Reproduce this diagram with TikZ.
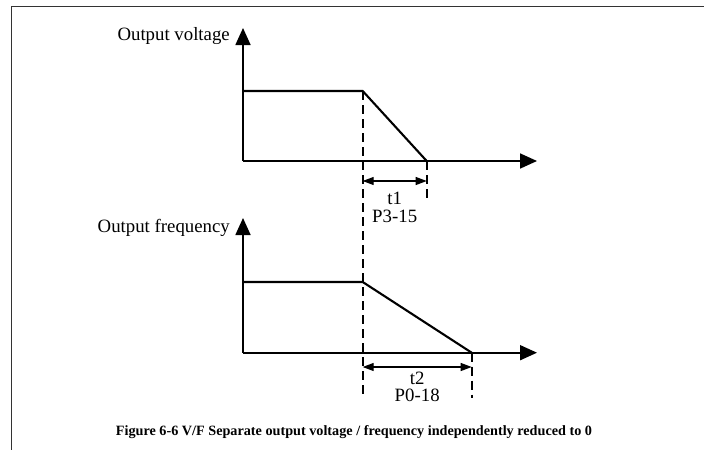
\documentclass[tikz,border=0pt]{standalone}
\usepackage{fontspec}
\setmainfont{Liberation Serif}
\usetikzlibrary{arrows.meta}
\begin{document}
\begin{tikzpicture}[x=1pt,y=-1pt,
  axis/.style={line width=1.7pt,-{Triangle[length=17pt,width=15pt]}},
  curve/.style={line width=2.1pt,line join=miter},
  guide/.style={line width=2pt,dash pattern=on 9pt off 5pt},
  dim/.style={line width=1.1pt,{Triangle[length=11pt,width=8pt]}-{Triangle[length=11pt,width=8pt]}},
  lbl/.style={font=\fontsize{18.8}{20}\selectfont,inner sep=0pt},
  captext/.style={font=\fontsize{14.2}{16}\selectfont\bfseries,inner sep=0pt}]
\useasboundingbox (0,0) rectangle (704,450);
% frame
\draw[line width=1.6pt,black!80] (704,6.5) -- (11.5,6.5) -- (11.5,450);
% upper graph coordinates
\coordinate (o1) at (243,161);
\coordinate (y1) at (243,28);
\coordinate (x1) at (537,161);
\coordinate (p1) at (243,91);
\coordinate (k1) at (362.7,91);
\coordinate (e1) at (426.7,161);
\coordinate (dl) at (362.7,398);
\coordinate (d1) at (426.7,198);
\coordinate (a1) at (362.7,181);
\coordinate (b1) at (426.7,181);
% lower graph coordinates
\coordinate (o2) at (243,352.7);
\coordinate (y2) at (243,218);
\coordinate (x2) at (537,352.7);
\coordinate (p2) at (243,282);
\coordinate (k2) at (362.7,282);
\coordinate (e2) at (471.7,352.7);
\coordinate (d2) at (471.7,398);
\coordinate (a2) at (362.7,367);
\coordinate (b2) at (471.7,367);
% axes
\draw[axis] (o1) -- (y1);
\draw[axis] (o1) -- (x1);
\draw[axis] (o2) -- (y2);
\draw[axis] (o2) -- (x2);
% curves
\draw[curve] (p1) -- (k1) -- (e1);
\draw[curve] (p2) -- (k2) -- (e2);
% guides
\draw[guide] (k1) -- (dl);
\draw[guide] (e1) -- (d1);
\draw[guide] (e2) -- (d2);
% dimension arrows
\draw[dim] (a1) -- (b1);
\draw[dim] (a2) -- (b2);
% labels
\node[lbl,anchor=east] (lv) at (230,36) {Output voltage};
\node[lbl,anchor=east] (lf) at (230,228) {Output frequency};
\node[lbl] (t1) at (394.7,198) {t1};
\node[lbl] (q1) at (394.7,216) {P3-15};
\node[lbl] (t2) at (417.2,378) {t2};
\node[lbl] (q2) at (417.2,395.5) {P0-18};
\node[captext] (cp) at (354,432) {Figure 6-6 V/F Separate output voltage / frequency independently reduced to 0};
\end{tikzpicture}
\end{document}
